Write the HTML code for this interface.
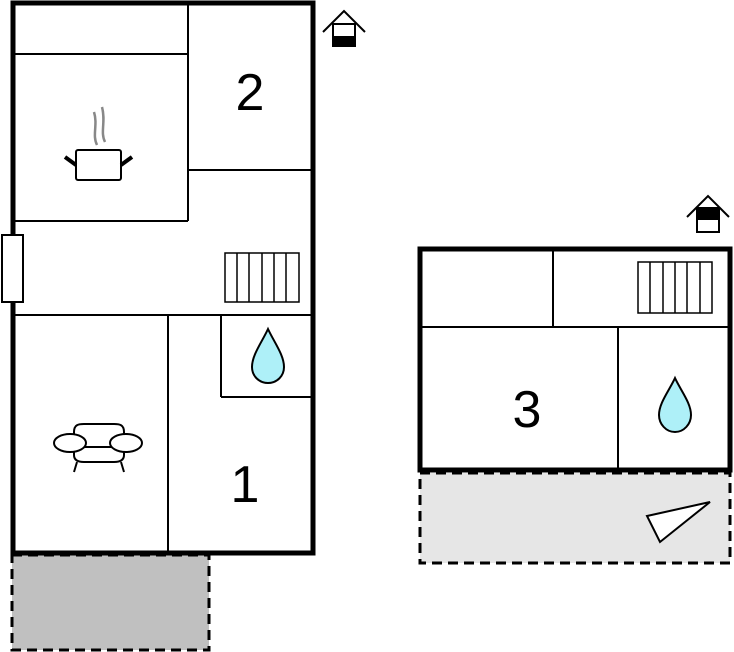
<!DOCTYPE html><html><head><style>body{margin:0;background:#fff}svg{display:block}text{font-family:"Liberation Sans",sans-serif}</style></head><body>
<svg width="734" height="652" viewBox="0 0 734 652">
<rect x="12" y="555" width="197" height="95" fill="#c0c0c0" stroke="#000" stroke-width="3" stroke-dasharray="10,6"/>
<rect x="420" y="473" width="310" height="90" fill="#e6e6e6" stroke="#000" stroke-width="3" stroke-dasharray="10,6"/>
<g stroke="#000" stroke-width="2" fill="none">
<line x1="13" y1="54" x2="188" y2="54"/><line x1="188" y1="3" x2="188" y2="221"/><line x1="13" y1="221" x2="188" y2="221"/>
<line x1="188" y1="170" x2="313" y2="170"/><line x1="13" y1="315" x2="313" y2="315"/>
<line x1="168" y1="315" x2="168" y2="553"/><line x1="221" y1="315" x2="221" y2="397"/><line x1="221" y1="397" x2="313" y2="397"/>
<line x1="420" y1="327" x2="730" y2="327"/><line x1="553" y1="249" x2="553" y2="327"/><line x1="618" y1="327" x2="618" y2="470"/>
</g>
<rect x="13" y="3" width="300" height="550" fill="none" stroke="#000" stroke-width="5"/>
<rect x="420" y="249" width="310" height="221" fill="none" stroke="#000" stroke-width="5"/>
<rect x="2" y="235" width="21" height="67" fill="#fff" stroke="#000" stroke-width="2"/>
<g stroke="#000" stroke-width="1.5" fill="#fff">
<rect x="225" y="253" width="74" height="49"/>
<path d="M237 253V302M249 253V302M262 253V302M274 253V302M286 253V302"/>
<rect x="638" y="262" width="74" height="51"/>
<path d="M650 262V313M663 262V313M675 262V313M687 262V313M700 262V313"/>
</g>
<text x="250" y="110" font-size="52" text-anchor="middle">2</text>
<text x="245" y="502" font-size="52" text-anchor="middle">1</text>
<text x="527" y="427" font-size="52" text-anchor="middle">3</text>
<path d="M268 329 C262 342 252 355 252 367 C252 376 259 383 268 383 C277 383 284 376 284 367 C284 355 274 342 268 329Z" fill="#aef0f8" stroke="#000" stroke-width="2"/>
<path d="M675 378 C669 391 659 403 659 415 C659 424 666 432 675 432 C684 432 691 424 691 415 C691 403 681 391 675 378Z" fill="#aef0f8" stroke="#000" stroke-width="2"/>
<path d="M647 516 L710 502 L660 542Z" fill="#fff" stroke="#000" stroke-width="2"/>
<g stroke="#888" stroke-width="2.5" fill="none"><path d="M97 145 C92 135 98 125 94 112"/><path d="M105 142 C100 132 106 122 102 107"/></g>
<rect x="76" y="150" width="45" height="30" rx="2" fill="#fff" stroke="#000" stroke-width="2"/>
<path d="M65 157 L76 165 M121 165 L132 157" stroke="#000" stroke-width="4"/>
<g stroke="#000" stroke-width="2" fill="#fff">
<path d="M74 432 C74 425 78 424 84 424 H114 C120 424 124 425 124 432 V455 C124 460 120 462 114 462 H84 C78 462 74 460 74 455Z"/>
<path d="M77 462 L74 472 M121 462 L124 472 M80 447 H118" fill="none"/>
<ellipse cx="70" cy="443" rx="16" ry="9"/><ellipse cx="126" cy="443" rx="16" ry="9"/>
</g>
<g stroke="#000" stroke-width="2" fill="none"><path d="M323 32 L344 11 L365 32"/><path d="M687 217 L708 196 L729 217"/></g>
<rect x="333" y="24" width="22" height="22" fill="#fff" stroke="#000" stroke-width="2"/><rect x="333" y="36" width="22" height="11" fill="#000"/>
<rect x="697" y="208" width="22" height="24" fill="#fff" stroke="#000" stroke-width="2"/><rect x="697" y="208" width="22" height="12" fill="#000"/>
</svg></body></html>
